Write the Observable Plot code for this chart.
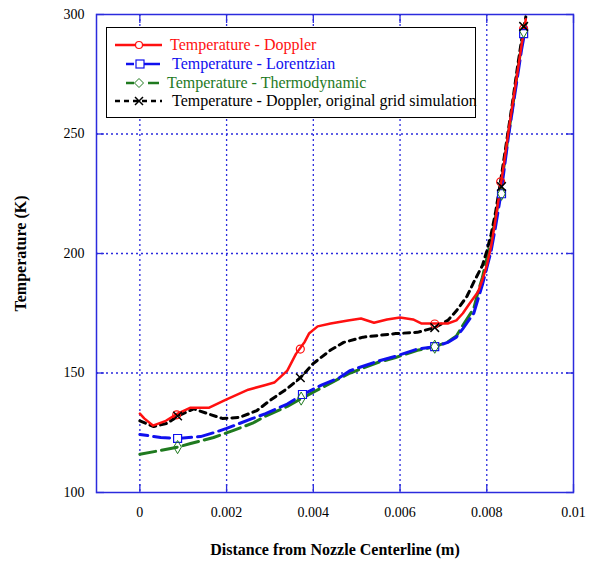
<!DOCTYPE html>
<html>
<head>
<meta charset="utf-8">
<script src="https://cdn.jsdelivr.net/npm/d3@7"></script>
<script src="https://cdn.jsdelivr.net/npm/@observablehq/plot@0.6"></script>
<style>
  body { margin: 0; background: #fff; }
  #wrap { position: relative; width: 597px; height: 565px; font-family: "Liberation Serif", Tinos, "DejaVu Serif", serif; }
  #legend { position: absolute; left: 106px; top: 27px; width: 370px; height: 91px; background: #fff; border: 1.5px solid #000; box-sizing: border-box; }
  .row { position: absolute; height: 18px; display: flex; align-items: center; font-size: 16px; white-space: nowrap; font-family: "Liberation Serif", Tinos, "DejaVu Serif", serif; }
</style>
</head>
<body>
<div id="wrap"></div>
<script>
const xTicks = [0, 0.002, 0.004, 0.006, 0.008, 0.01];
const yTicks = [100, 150, 200, 250, 300];
const seriesNames = ["Temperature - Doppler", "Temperature - Lorentzian", "Temperature - Thermodynamic", "Temperature - Doppler, original grid simulation"];
const seriesColors = ["#ff1010", "#1010ee", "#1f7a1f", "#000000"];

const dopplerX = [0, 0.0001, 0.0003, 0.0006, 0.00087, 0.00117, 0.0016, 0.002, 0.0025, 0.0029, 0.0031, 0.0034, 0.0036, 0.0038, 0.0039, 0.0041, 0.0044, 0.0048, 0.0051, 0.0054, 0.0057, 0.006, 0.0063, 0.0065, 0.0068, 0.0071, 0.0073, 0.00745, 0.0076, 0.0078, 0.0079, 0.008, 0.0081, 0.0082, 0.0083, 0.0084, 0.0085, 0.0086, 0.0087, 0.0088, 0.0089];
const dopplerT = [133, 131, 128, 130, 133, 135.5, 135.5, 139, 143, 145, 146, 151, 158, 163, 166.5, 169.5, 170.7, 172, 172.8, 171, 172.4, 173.2, 172.4, 170.7, 170.7, 170.7, 172, 175, 179, 184, 189, 195, 203, 214, 226, 238, 251, 263, 275, 287, 298];

const lorentzX = [0, 0.00048, 0.00087, 0.0014, 0.0017, 0.002, 0.0026, 0.0029, 0.0034, 0.00375, 0.0042, 0.0046, 0.00485, 0.0055, 0.0059, 0.0064, 0.0068, 0.0071, 0.0073, 0.00745, 0.0077, 0.0079, 0.008, 0.0081, 0.0082, 0.0083, 0.0084, 0.0085, 0.0086, 0.0087, 0.0088, 0.0089];
const lorentzT = [124.3, 123, 122.6, 123.4, 125, 126.8, 131, 133, 137, 141, 145, 148, 151, 155, 157, 160, 161, 162.8, 165, 168.6, 175, 187, 194, 201, 211, 222, 235, 249, 261, 273, 285, 295];

const thermoX = [0, 0.00048, 0.00087, 0.00117, 0.0017, 0.00216, 0.0026, 0.0029, 0.0034, 0.00372, 0.004, 0.0046, 0.00485, 0.0055, 0.0059, 0.0064, 0.0068, 0.0071, 0.0073, 0.00745, 0.0077, 0.0078, 0.0079, 0.008, 0.0081, 0.0082, 0.0083, 0.0084, 0.0085, 0.0086, 0.0087, 0.0088, 0.0089];
const thermoT = [116, 117.6, 119, 120.5, 123, 126, 129, 132, 136, 139.3, 142, 147.7, 150, 154.5, 156.5, 159.5, 161, 163, 165.5, 170, 177, 184, 190, 198, 206, 215, 225, 237, 250, 262, 275, 287, 296];

const origX = [0, 0.00032, 0.00064, 0.00087, 0.00124, 0.00156, 0.0019, 0.0023, 0.0027, 0.003, 0.0034, 0.0037, 0.004, 0.0044, 0.0047, 0.00515, 0.0059, 0.0064, 0.0068, 0.0071, 0.0073, 0.00754, 0.0077, 0.0079, 0.008, 0.0081, 0.0082, 0.0083, 0.0084, 0.0085, 0.0086, 0.0087, 0.0088, 0.0089];
const origT = [130, 127.6, 129, 132, 135, 133, 131, 131.4, 134.3, 138.5, 143.5, 148, 154, 159.6, 162.8, 165, 166.5, 167, 169, 172, 176, 182, 188, 195, 201, 208, 217, 228, 240, 252, 264, 277, 289, 299];

const dopplerMarkX = [0.00085, 0.0037, 0.0068, 0.00832, 0.00885];
const dopplerMarkT = [132.5, 160, 170.5, 230, 294];
const lorentzMarkX = [0.00087, 0.00375, 0.0068, 0.00834, 0.00885];
const lorentzMarkT = [122.6, 141, 161, 225, 292];
const thermoMarkX = [0.00087, 0.00372, 0.0068, 0.00834, 0.00885];
const thermoMarkT = [119, 139.3, 161, 225, 293];
const origMarkX = [0.00087, 0.0037, 0.0068, 0.00834, 0.00885];
const origMarkT = [132, 148, 169, 228, 295];

const zip = (xs, ys) => xs.map((x, i) => ({x, y: ys[i]}));
const doppler = zip(dopplerX, dopplerT), lorentz = zip(lorentzX, lorentzT), thermo = zip(thermoX, thermoT), orig = zip(origX, origT);
const dM = zip(dopplerMarkX, dopplerMarkT), lM = zip(lorentzMarkX, lorentzMarkT), tM = zip(thermoMarkX, thermoMarkT), oM = zip(origMarkX, origMarkT);

const axisColor = "#2b2bdd";
const gridX = xTicks.filter(v => v < 0.01);
const gridY = yTicks.filter(v => v > 100 && v < 300);
const serif = "'Liberation Serif', Tinos, 'DejaVu Serif', serif";

const chart = Plot.plot({
  width: 597, height: 565,
  marginLeft: 96, marginRight: 24, marginTop: 14, marginBottom: 73,
  style: {fontFamily: serif, fontSize: "14px", background: "#fff", color: "#000"},
  x: {domain: [-0.001, 0.01]},
  y: {domain: [100, 300]},
  marks: [
    Plot.ruleX(gridX, {stroke: axisColor, strokeDasharray: "2,3", strokeWidth: 1.3}),
    Plot.ruleY(gridY, {stroke: axisColor, strokeDasharray: "2,3", strokeWidth: 1.3}),
    Plot.frame({stroke: axisColor, strokeWidth: 1.5}),
    Plot.axisX(xTicks, {anchor: "bottom", tickSize: -8, stroke: axisColor, strokeWidth: 1.3, text: null, label: null}),
    Plot.axisX(xTicks, {anchor: "top", tickSize: -8, stroke: axisColor, strokeWidth: 1.3, text: null, label: null}),
    Plot.axisY(yTicks, {anchor: "left", tickSize: -8, stroke: axisColor, strokeWidth: 1.3, text: null, label: null}),
    Plot.axisY(yTicks, {anchor: "right", tickSize: -8, stroke: axisColor, strokeWidth: 1.3, text: null, label: null}),
    Plot.axisX(xTicks, {anchor: "bottom", tickSize: 0, tickPadding: 15, fontSize: 14, fontFamily: serif, tickFormat: d => String(d),
      label: "Distance from Nozzle Centerline (m)", labelAnchor: "center", labelArrow: "none", labelOffset: 62}),
    Plot.axisY(yTicks, {anchor: "left", tickSize: 0, tickPadding: 12, fontSize: 14, fontFamily: serif, tickFormat: d => String(d),
      label: "Temperature (K)", labelAnchor: "center", labelArrow: "none", labelOffset: 82}),
    Plot.line(thermo, {x: "x", y: "y", stroke: seriesColors[2], strokeWidth: 3, strokeDasharray: "16,6"}),
    Plot.line(lorentz, {x: "x", y: "y", stroke: seriesColors[1], strokeWidth: 3, strokeDasharray: "16,6", strokeDashoffset: 8}),
    Plot.line(orig, {x: "x", y: "y", stroke: seriesColors[3], strokeWidth: 3, strokeDasharray: "6,5"}),
    Plot.line(doppler, {x: "x", y: "y", stroke: seriesColors[0], strokeWidth: 2.5}),
    Plot.dot(dM, {x: "x", y: "y", symbol: "circle", r: 4, stroke: seriesColors[0], fill: "none", strokeWidth: 1.2}),
    Plot.dot(lM, {x: "x", y: "y", symbol: "square", r: 4.5, stroke: seriesColors[1], fill: "#fff", strokeWidth: 1.2}),
    Plot.dot(tM, {x: "x", y: "y", symbol: "diamond", r: 4, stroke: seriesColors[2], fill: "none", strokeWidth: 1}),
    Plot.dot(oM, {x: "x", y: "y", symbol: "times", r: 4, stroke: seriesColors[3], strokeWidth: 1.5})
  ]
});

const wrap = document.getElementById("wrap");
wrap.appendChild(chart);
chart.querySelectorAll("text").forEach(t => t.style.fontFamily = serif);
chart.querySelectorAll("g[aria-label='y-axis label'] text, g[aria-label='x-axis label'] text").forEach(t => {
  t.setAttribute("font-weight", "bold");
  t.style.fontSize = "16px";
});

// legend
const legend = document.createElement("div");
legend.id = "legend";
const sampleSvgs = [
  `<line x1="1" y1="9" x2="48" y2="9" stroke="${seriesColors[0]}" stroke-width="2.5"/><circle cx="25" cy="9" r="3.5" fill="#fff" stroke="${seriesColors[0]}" stroke-width="1.2"/>`,
  `<line x1="12" y1="9" x2="46" y2="9" stroke="${seriesColors[1]}" stroke-width="2.5" stroke-dasharray="8,5,22,0"/><rect x="22" y="5" width="8" height="8" fill="#fff" stroke="${seriesColors[1]}" stroke-width="1.2"/>`,
  `<line x1="12" y1="9" x2="45" y2="9" stroke="${seriesColors[2]}" stroke-width="2.5" stroke-dasharray="8,14,11,0"/><path d="M25,4.5L29.5,9L25,13.5L20.5,9Z" fill="#fff" stroke="${seriesColors[2]}" stroke-width="1"/>`,
  `<line x1="1" y1="9" x2="48" y2="9" stroke="${seriesColors[3]}" stroke-width="2.5" stroke-dasharray="5,4"/><path d="M21,5L29,13M29,5L21,13" stroke="${seriesColors[3]}" stroke-width="1.5"/>`
];
const svgWidths = [56, 58, 53, 58];
const rowTops = [8, 27, 46, 64];
seriesNames.forEach((name, i) => {
  const row = document.createElement("div");
  row.className = "row";
  row.style.top = rowTops[i] + "px";
  row.style.left = "7px";
  row.style.color = seriesColors[i];
  row.innerHTML = `<svg width="${svgWidths[i]}" height="18">${sampleSvgs[i]}</svg><span>${name}</span>`;
  legend.appendChild(row);
});
wrap.appendChild(legend);
</script>
</body>
</html>
